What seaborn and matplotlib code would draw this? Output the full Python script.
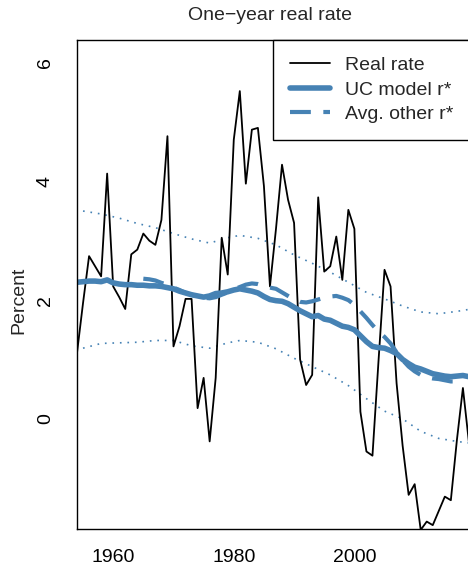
import matplotlib
matplotlib.use("Agg")
import matplotlib.pyplot as plt
import seaborn as sns
import pandas as pd

# ---------------- data ----------------
years_rate = list(range(1954, 2020))
real_rate = [1.11, 1.95, 2.74, 2.57, 2.40, 4.13, 2.23, 2.05, 1.85, 2.77,
             2.85, 3.12, 3.00, 2.93, 3.35, 4.76, 1.22, 1.56, 2.02, 2.02,
             0.18, 0.69, -0.38, 0.69, 3.05, 2.43, 4.70, 5.52, 3.96, 4.87,
             4.90, 3.92, 2.23, 3.20, 4.28, 3.69, 3.30, 1.00, 0.57, 0.74,
             3.73, 2.48, 2.57, 3.07, 2.34, 3.52, 3.20, 0.12, -0.55, -0.62,
             0.97, 2.51, 2.23, 0.60, -0.45, -1.28, -1.10, -1.87, -1.73, -1.79,
             -1.55, -1.31, -1.37, -0.36, 0.52, -0.40]

uc_rstar = [2.30, 2.31, 2.32, 2.32, 2.31, 2.34, 2.29, 2.27, 2.26, 2.26,
            2.25, 2.25, 2.24, 2.24, 2.23, 2.21, 2.19, 2.15, 2.12, 2.09,
            2.07, 2.05, 2.07, 2.11, 2.12, 2.14, 2.17, 2.19, 2.17, 2.15,
            2.12, 2.06, 2.01, 1.99, 1.98, 1.94, 1.88, 1.82, 1.77, 1.72,
            1.74, 1.68, 1.66, 1.61, 1.56, 1.54, 1.50, 1.40, 1.30, 1.22,
            1.20, 1.19, 1.15, 1.10, 1.00, 0.93, 0.87, 0.84, 0.80, 0.76,
            0.74, 0.72, 0.71, 0.72, 0.73, 0.71]

years_other = list(range(1965, 2018))
avg_other = [2.36, 2.35, 2.33, 2.29, 2.26, 2.21, 2.17, 2.12, 2.09, 2.06,
             2.04, 2.03, 2.05, 2.09, 2.13, 2.18, 2.22, 2.26, 2.28, 2.27,
             2.24, 2.21, 2.19, 2.13, 2.07, 2.01, 1.97, 1.96, 1.98, 2.01,
             2.04, 2.06, 2.07, 2.04, 2.00, 1.92, 1.81, 1.70, 1.58, 1.47,
             1.38, 1.27, 1.12, 0.99, 0.88, 0.80, 0.74, 0.70, 0.68, 0.67,
             0.65, 0.63, 0.63]

years_band = [1955, 1958, 1961, 1964, 1967, 1970, 1973, 1976, 1979, 1981,
              1984, 1987, 1990, 1993, 1996, 1999, 2002, 2005, 2008, 2011,
              2014, 2017, 2020]
band_upper = [3.50, 3.45, 3.38, 3.29, 3.22, 3.12, 3.03, 2.96, 3.05, 3.09,
              3.04, 2.93, 2.76, 2.62, 2.47, 2.30, 2.13, 2.02, 1.90, 1.80,
              1.77, 1.81, 1.86]
band_lower = [1.19, 1.27, 1.28, 1.29, 1.32, 1.32, 1.23, 1.19, 1.28, 1.32,
              1.29, 1.18, 1.02, 0.88, 0.74, 0.56, 0.34, 0.13, 0.00, -0.21,
              -0.33, -0.38, -0.42]

x_ticks = [1960, 1970, 1980, 1990, 2000, 2010]
x_ticklabels = ["1960", "", "1980", "", "2000", ""]
y_ticks = [0, 2, 4, 6]

# ---------------- style ----------------
sns.set_style("white")
plt.rcParams["font.family"] = ["Liberation Sans", "DejaVu Sans"]
plt.rcParams["axes.unicode_minus"] = True

BLUE = "#4682B4"

fig = plt.figure(figsize=(4.68, 5.68), dpi=100)
ax = fig.add_axes([77 / 468, 39 / 568, 404 / 468, 489 / 568])

df_rate = pd.DataFrame({"year": years_rate, "rate": real_rate, "uc": uc_rstar})
df_other = pd.DataFrame({"year": years_other, "avg": avg_other})
df_band = pd.DataFrame({"year": years_band, "up": band_upper, "lo": band_lower})

sns.lineplot(data=df_band, x="year", y="up", ax=ax, color=BLUE, lw=1.2,
             linestyle=(0, (1, 3.5)), legend=False)
sns.lineplot(data=df_band, x="year", y="lo", ax=ax, color=BLUE, lw=1.2,
             linestyle=(0, (1, 3.5)), legend=False)
sns.lineplot(data=df_rate, x="year", y="rate", ax=ax, color="black", lw=1.3,
             label="Real rate")
sns.lineplot(data=df_rate, x="year", y="uc", ax=ax, color=BLUE, lw=4.0,
             label="UC model r*", solid_capstyle="round")
sns.lineplot(data=df_other, x="year", y="avg", ax=ax, color=BLUE, lw=3.0,
             linestyle=(0, (5, 3)), label="Avg. other r*")

ax.set_xlim(1954, 2021)
ax.set_ylim(-1.855, 6.38)
ax.set_xticks(x_ticks)
ax.set_xticklabels(x_ticklabels)
ax.set_yticks(y_ticks)
ax.set_yticklabels([str(v) for v in y_ticks], rotation=90, va="center")
ax.tick_params(axis="both", direction="out", length=8.6, width=1.0,
               color="black", labelsize=14, labelcolor="black")
ax.tick_params(axis="x", pad=6)
ax.tick_params(axis="y", pad=8)
for s in ax.spines.values():
    s.set_visible(True)
    s.set_color("black")
    s.set_linewidth(1.0)

ax.set_xlabel("")
ax.set_ylabel("Percent", fontsize=14)
ax.yaxis.set_label_coords((27 - 77) / 404, (529 - 300) / 489)

fig.text(270 / 468, 1 - 16 / 568, "One\u2212year real rate", ha="center",
         va="center", fontsize=14)

leg = ax.legend(loc="upper left", bbox_to_anchor=((273 - 77) / 404, 1.0),
                fontsize=14, frameon=True, fancybox=False, edgecolor="black",
                framealpha=1, handlelength=2.1, handletextpad=0.75,
                labelspacing=0.35, borderpad=0.85, borderaxespad=0)
leg.get_frame().set_linewidth(1.0)

fig.savefig("out.png", dpi=100)
